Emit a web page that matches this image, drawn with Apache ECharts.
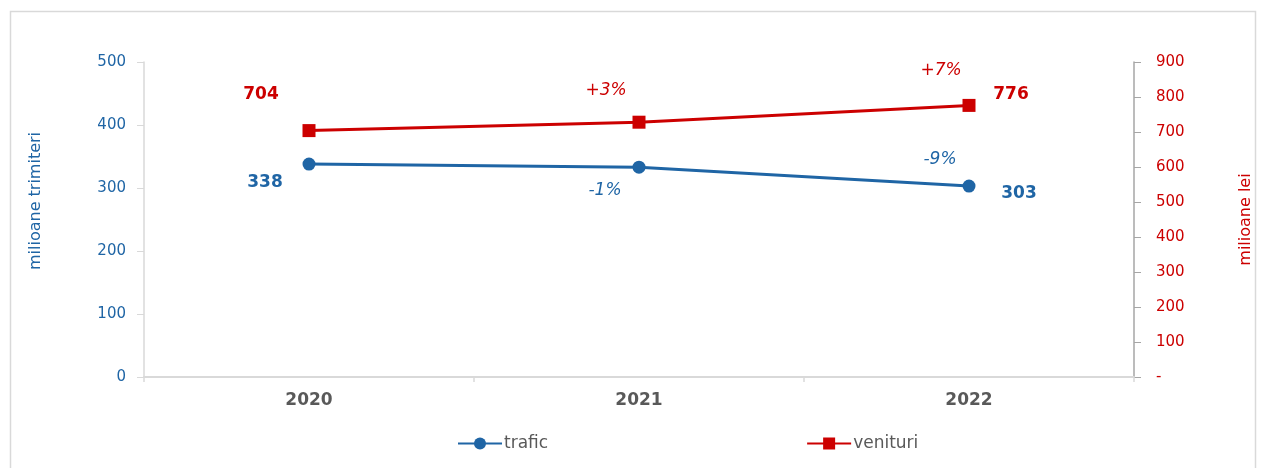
<!DOCTYPE html>
<html>
<head>
<meta charset="utf-8">
<script src="https://cdn.jsdelivr.net/npm/echarts@6/dist/echarts.min.js"></script>
<style>
  html, body { margin: 0; padding: 0; background: #fff; }
  #chart { width: 1263px; height: 468px; }
</style>
</head>
<body>
<div id="chart"></div>
<script>
// date
const years = ['2020', '2021', '2022']
const trafic = [338, 333, 303]
const venituri = [704, 728, 776]
const traficLabels = ['338', '-1%', '-9%']
const venituriLabels = ['704', '+3%', '+7%']
const leftTicks = { min: 0, max: 500, step: 100 }
const rightTicks = { min: 0, max: 900, step: 100 }

const blue = '#1f65a5'
const red = '#cc0000'
const font = 'DejaVu Sans'

// pozitiile etichetelor fata de punct (dx, dy)
const traficOffsets = [[-44, 19], [-34, 23], [-29, -27]]
const venituriOffsets = [[-48, -36], [-33, -32], [-28, -35]]

function labelled(values, texts, offsets, color) {
  return values.map((v, i) => {
    const isValue = /^\d+$/.test(texts[i])
    return {
      value: v,
      label: {
        show: true,
        position: 'inside',
        offset: offsets[i],
        formatter: texts[i],
        color: color,
        fontFamily: font,
        fontSize: 17,
        fontWeight: isValue ? 'bold' : 'normal',
        fontStyle: isValue ? 'normal' : 'italic'
      }
    }
  })
}

// eticheta cu valoarea pentru ultimul an
function lastValue(values, offset, color) {
  return values.map((v, i) => {
    if (i !== values.length - 1) return null
    return {
      value: v,
      label: {
        show: true,
        position: 'inside',
        offset: offset,
        formatter: String(v),
        color: color,
        fontFamily: font,
        fontSize: 17,
        fontWeight: 'bold'
      }
    }
  })
}

const chart = echarts.init(document.getElementById('chart'))
chart.setOption({
  backgroundColor: '#fff',
  animation: false,
  textStyle: { fontFamily: font },
  graphic: [
    {
      type: 'rect',
      shape: { x: 10.5, y: 11.5, width: 1245, height: 470 },
      style: { fill: 'none', stroke: '#d9d9d9', lineWidth: 1.5 },
      silent: true
    },
    {
      type: 'text',
      x: 36,
      y: 201,
      rotation: Math.PI / 2,
      style: {
        text: 'milioane trimiteri',
        fill: blue,
        font: '16px "DejaVu Sans"',
        align: 'center',
        verticalAlign: 'middle'
      },
      silent: true
    }
  ],
  grid: { left: 144, right: 129, top: 62, bottom: 91 },
  legend: {
    left: 452,
    top: 430,
    itemGap: 258,
    itemWidth: 44,
    itemHeight: 15,
    data: ['trafic', 'venituri'],
    textStyle: { color: '#595959', fontSize: 17, fontFamily: font, padding: [0, 0, 0, -3] }
  },
  xAxis: {
    type: 'category',
    data: years,
    boundaryGap: true,
    axisLine: { lineStyle: { color: '#d9d9d9', width: 2 } },
    axisTick: { show: true, interval: 0, length: 5, lineStyle: { color: '#d9d9d9', width: 1.5 } },
    axisLabel: { color: '#595959', fontSize: 17, fontWeight: 'bold', margin: 15 },
    splitLine: { show: false }
  },
  yAxis: [
    {
      type: 'value',
      min: leftTicks.min,
      max: leftTicks.max,
      interval: leftTicks.step,
      axisLine: { show: true, lineStyle: { color: '#d9d9d9', width: 1.5 } },
      axisTick: { show: true, length: 7, lineStyle: { color: '#d9d9d9' } },
      axisLabel: { color: blue, fontSize: 15, margin: 18 },
      splitLine: { show: false }
    },
    {
      type: 'value',
      position: 'right',
      min: rightTicks.min,
      max: rightTicks.max,
      interval: rightTicks.step,
      name: 'milioane lei',
      nameLocation: 'middle',
      nameGap: 104,
      nameRotate: 90,
      nameTextStyle: { color: red, fontSize: 16 },
      axisLine: { show: true, lineStyle: { color: '#a6a6a6', width: 1.5 } },
      axisTick: { show: true, length: 7, lineStyle: { color: '#a6a6a6' } },
      axisLabel: {
        color: red,
        fontSize: 15,
        margin: 22,
        formatter: v => (v === 0 ? '-' : String(v))
      },
      splitLine: { show: false }
    }
  ],
  series: [
    {
      name: 'trafic',
      type: 'line',
      yAxisIndex: 0,
      data: labelled(trafic, traficLabels, traficOffsets, blue),
      symbol: 'circle',
      symbolSize: 13,
      lineStyle: { color: blue, width: 3 },
      itemStyle: { color: blue },
      z: 3
    },
    {
      name: 'venituri',
      type: 'line',
      yAxisIndex: 1,
      data: labelled(venituri, venituriLabels, venituriOffsets, red),
      symbol: 'rect',
      symbolSize: 13,
      lineStyle: { color: red, width: 3 },
      itemStyle: { color: red },
      z: 3
    },
    {
      name: 'trafic-val',
      type: 'scatter',
      yAxisIndex: 0,
      symbolSize: 1,
      itemStyle: { color: 'transparent', opacity: 1 },
      data: lastValue(trafic, [50, 7], blue),
      z: 4
    },
    {
      name: 'venituri-val',
      type: 'scatter',
      yAxisIndex: 1,
      symbolSize: 1,
      itemStyle: { color: 'transparent', opacity: 1 },
      data: lastValue(venituri, [42, -11], red),
      z: 4
    }
  ]
})
</script>
</body>
</html>
